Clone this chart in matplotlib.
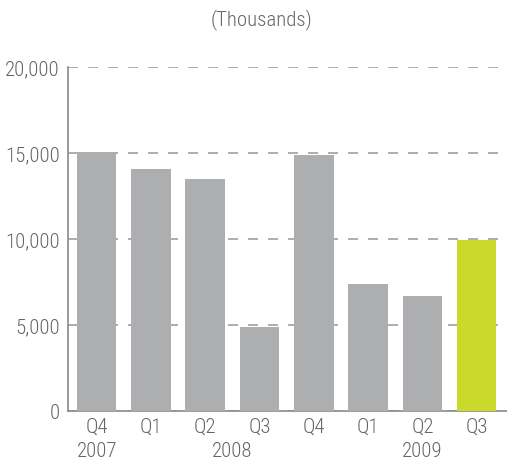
import matplotlib
matplotlib.use("Agg")
import matplotlib.pyplot as plt
import matplotlib.transforms as mtransforms
from matplotlib import font_manager

quarters = ["Q4", "Q1", "Q2", "Q3", "Q4", "Q1", "Q2", "Q3"]
values = [15050, 14070, 13500, 4900, 14900, 7400, 6700, 9950]
years = ["2007", "2008", "2009"]
year_pos = [0, 2.5, 6]

GREY = "#adaeb0"
LIME = "#c9da2a"
INK = "#666666"
RULE = "#8a8a8a"

# pick a narrow face if one is installed
fonts = sorted(f.fname for f in font_manager.fontManager.ttflist)
narrow = None
for key in ("LiberationSansNarrow-Regular", "RobotoCondensed-Light",
            "RobotoCondensed-Regular", "DejaVuSansCondensed.ttf",
            "Condensed-Regular", "Narrow"):
    hits = [f for f in fonts if key in f and "Bold" not in f and "Italic" not in f]
    if hits:
        narrow = hits[0]
        break
FP = font_manager.FontProperties(fname=narrow, size=15) if narrow else \
    font_manager.FontProperties(family="DejaVu Sans", stretch="condensed", size=15)

fig = plt.figure(figsize=(5.07, 4.64), dpi=100)
ax = fig.add_axes([68 / 507, 52 / 464, 439 / 507, 344 / 464])

x = list(range(len(values)))
colors = [GREY] * (len(values) - 1) + [LIME]
ax.bar(x, values, width=40 / 55, color=colors, zorder=3)

ax.set_ylim(0, 20000)
ax.set_xlim(-29 / 55, 7 + 29 / 55 + 0.03)
ax.set_yticks(range(0, 20001, 5000))
ax.set_yticklabels([f"{v:,}" for v in range(0, 20001, 5000)], fontproperties=FP, color=INK)
ax.yaxis.grid(True, color="#a0a0a0", lw=1.2, ls=(0, (6, 6)), zorder=0)

ax.set_xticks(x)
ax.set_xticklabels(quarters, fontproperties=FP, color=INK)
ax.tick_params(axis="both", length=0)
ax.tick_params(axis="y", pad=6)
ax.tick_params(axis="x", pad=4)

tr = mtransforms.blended_transform_factory(ax.transData, fig.transFigure)
for yr, p in zip(years, year_pos):
    ax.text(p, 12 / 464, yr, transform=tr, ha="center", va="center",
            fontproperties=FP, color=INK)

for s in ("top", "right"):
    ax.spines[s].set_visible(False)
for s in ("left", "bottom"):
    ax.spines[s].set_color(RULE)
    ax.spines[s].set_linewidth(1.2)

fig.text(261 / 507, 1 - 20 / 464, "(Thousands)", ha="center", va="center",
         fontproperties=FP, color=INK)

fig.savefig("out.png", dpi=100)
